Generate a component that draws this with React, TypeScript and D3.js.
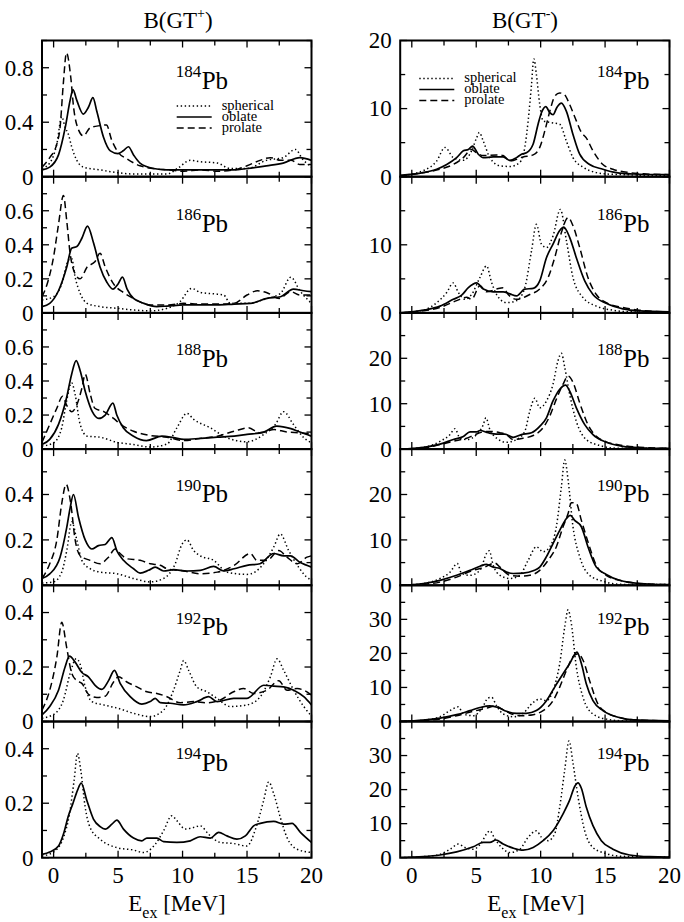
import * as d3 from "d3";

type Pt = [number, number];

// B(GT+) : [E_ex (MeV), strength]
const sph184P: Pt[] = [[-0.9,0.06],[-0.3,0.10],[0.25,0.24],[0.63,0.44],[0.9,0.36],[1.15,0.31],[1.4,0.22],[1.8,0.12],[2.3,0.07],[3.6,0.05],[4.9,0.03],[6.2,0.02],[7.5,0.02],[8.8,0.02],[9.6,0.06],[10.6,0.12],[11.4,0.11],[12.7,0.10],[13.7,0.06],[15,0.06],[16.5,0.12],[17.8,0.14],[18.75,0.20],[19.3,0.13],[20,0.07]];
const obl184P: Pt[] = [[-0.9,0.05],[-0.3,0.07],[0.38,0.16],[0.9,0.36],[1.28,0.56],[1.5,0.64],[1.8,0.56],[2.3,0.46],[2.7,0.51],[3.05,0.58],[3.35,0.48],[3.87,0.29],[4.4,0.19],[5.0,0.17],[5.4,0.19],[5.8,0.22],[6.2,0.16],[6.7,0.10],[7.75,0.06],[8.8,0.05],[10.1,0.05],[11.4,0.05],[14,0.05],[15,0.06],[16.5,0.08],[17.8,0.10],[19.1,0.14],[20,0.12]];
const pro184P: Pt[] = [[-0.9,0.07],[-0.3,0.14],[0.25,0.24],[0.5,0.36],[0.75,0.68],[1.0,0.91],[1.33,0.73],[1.55,0.51],[1.95,0.34],[2.3,0.30],[2.85,0.36],[3.6,0.375],[4.1,0.38],[4.5,0.27],[5.0,0.18],[5.7,0.13],[6.7,0.08],[7.75,0.06],[8.8,0.05],[10.1,0.04],[11.4,0.05],[12.7,0.04],[14,0.05],[15,0.08],[16,0.12],[16.8,0.14],[17.6,0.12],[18.4,0.12],[19.1,0.09],[20,0.09]];

const sph186P: Pt[] = [[-0.9,0.076],[0,0.095],[0.63,0.17],[1.15,0.31],[1.4,0.32],[1.67,0.21],[2.06,0.115],[2.6,0.056],[3.6,0.037],[4.9,0.027],[6.2,0.017],[7.5,0.012],[8.8,0.027],[9.8,0.066],[10.7,0.144],[11.4,0.12],[12.7,0.11],[13.2,0.105],[13.7,0.056],[15,0.056],[16.55,0.085],[17.6,0.115],[18.4,0.21],[19.1,0.13],[20,0.056]];
const obl186P: Pt[] = [[-0.9,0.037],[-0.3,0.056],[0.38,0.13],[1.02,0.27],[1.4,0.38],[1.8,0.39],[2.2,0.44],[2.63,0.51],[3.1,0.41],[3.6,0.27],[4.13,0.18],[4.6,0.14],[5.0,0.17],[5.34,0.21],[5.7,0.14],[6.2,0.085],[7.0,0.056],[8.0,0.037],[8.8,0.04],[10.1,0.047],[11.4,0.047],[12.7,0.047],[14,0.052],[15.25,0.056],[16.55,0.085],[17.6,0.095],[18.6,0.14],[19.4,0.13],[20,0.125]];
const pro186P: Pt[] = [[-0.9,0.095],[-0.5,0.17],[0,0.33],[0.38,0.52],[0.76,0.69],[1.02,0.54],[1.28,0.35],[1.67,0.23],[2.06,0.20],[2.6,0.27],[3.2,0.30],[3.6,0.35],[4.0,0.27],[4.65,0.17],[5.4,0.12],[6.2,0.085],[7.5,0.047],[8.8,0.047],[10.1,0.056],[11.4,0.052],[12.7,0.052],[14,0.056],[15,0.105],[15.8,0.13],[16.5,0.12],[17.5,0.085],[18.4,0.125],[19.1,0.105],[20,0.105]];

const sph188P: Pt[] = [[-0.9,0.018],[0,0.037],[0.63,0.125],[1.0,0.28],[1.4,0.39],[1.67,0.32],[2.06,0.145],[2.6,0.076],[3.6,0.07],[4.9,0.04],[6.2,0.027],[7.5,0.012],[8.8,0.03],[9.56,0.125],[10.34,0.21],[10.86,0.175],[12.15,0.125],[13.44,0.067],[15,0.043],[16.3,0.086],[17.2,0.145],[17.84,0.22],[18.6,0.145],[19.4,0.067],[20,0.037]];
const obl188P: Pt[] = [[-0.9,0.027],[-0.3,0.057],[0.38,0.145],[1.0,0.30],[1.4,0.44],[1.75,0.52],[2.06,0.46],[2.45,0.34],[3.0,0.22],[3.5,0.18],[4.0,0.20],[4.6,0.27],[4.9,0.20],[5.4,0.125],[6.2,0.076],[7.2,0.05],[8.4,0.076],[9.3,0.067],[10.1,0.057],[11.4,0.063],[12.7,0.07],[14,0.076],[15,0.086],[16.3,0.10],[17.3,0.135],[18.4,0.12],[19.1,0.10],[20,0.076]];
const pro188P: Pt[] = [[-0.9,0.04],[-0.3,0.145],[0.25,0.24],[0.7,0.31],[1.0,0.26],[1.4,0.22],[1.8,0.26],[2.2,0.36],[2.45,0.44],[2.85,0.32],[3.2,0.24],[3.9,0.22],[4.65,0.18],[5.2,0.145],[6.2,0.105],[7.5,0.08],[8.8,0.07],[10.1,0.05],[11.4,0.063],[12.7,0.076],[14,0.105],[15.1,0.125],[16,0.096],[17.1,0.115],[18.1,0.10],[19.1,0.096],[20,0.09]];

const sph190P: Pt[] = [[-0.9,0.01],[0,0.015],[0.63,0.058],[1.02,0.153],[1.41,0.28],[1.8,0.20],[2.19,0.11],[2.83,0.073],[3.61,0.058],[4.9,0.051],[6.2,0.03],[7.49,0.015],[8.53,0.03],[9.43,0.095],[9.95,0.18],[10.34,0.20],[10.86,0.153],[11.37,0.13],[12.41,0.11],[13.44,0.058],[15,0.048],[16.29,0.095],[17.07,0.168],[17.58,0.226],[18.23,0.153],[19.0,0.08],[19.78,0.03],[20,0.025]];
const obl190P: Pt[] = [[-0.9,0.03],[-0.3,0.05],[0.5,0.124],[1.02,0.255],[1.28,0.34],[1.54,0.40],[1.93,0.30],[2.45,0.20],[2.96,0.16],[3.48,0.175],[4.0,0.18],[4.52,0.21],[4.9,0.153],[5.42,0.11],[6.2,0.073],[6.71,0.054],[7.36,0.066],[7.88,0.08],[8.53,0.063],[9.3,0.069],[10.34,0.063],[11.37,0.066],[12.41,0.083],[13.19,0.063],[14,0.073],[15,0.088],[16,0.095],[17.07,0.14],[17.84,0.13],[18.36,0.13],[19.14,0.10],[20,0.08]];
const pro190P: Pt[] = [[-0.9,0.03],[-0.3,0.095],[0.25,0.20],[0.63,0.36],[0.97,0.445],[1.33,0.36],[1.67,0.20],[2.06,0.13],[2.83,0.11],[3.6,0.095],[4.26,0.124],[4.77,0.16],[5.16,0.14],[5.68,0.117],[6.71,0.11],[7.5,0.095],[8.27,0.088],[8.8,0.073],[10.1,0.063],[11.4,0.051],[12.7,0.058],[14,0.088],[15.25,0.14],[15.77,0.11],[16.55,0.11],[17.46,0.153],[18.1,0.124],[18.9,0.095],[19.65,0.124],[20,0.13]];

const sph192P: Pt[] = [[-0.9,0.012],[0.12,0.03],[0.76,0.079],[1.28,0.176],[1.75,0.23],[2.06,0.21],[2.45,0.127],[2.96,0.073],[3.87,0.061],[5.03,0.048],[6.2,0.03],[7.49,0.018],[8.53,0.042],[9.3,0.115],[9.82,0.188],[10.08,0.224],[10.47,0.188],[11.11,0.127],[11.89,0.109],[12.67,0.085],[13.7,0.055],[15,0.061],[16.03,0.091],[16.81,0.164],[17.33,0.23],[17.84,0.188],[18.62,0.115],[19.4,0.055],[20,0.02]];
const obl192P: Pt[] = [[-0.9,0.024],[-0.3,0.055],[0.38,0.115],[0.89,0.20],[1.23,0.24],[1.67,0.218],[2.19,0.18],[2.7,0.164],[3.22,0.133],[3.74,0.118],[4.26,0.15],[4.72,0.188],[5.16,0.14],[5.94,0.091],[6.84,0.064],[7.49,0.073],[7.88,0.085],[8.27,0.069],[9.04,0.067],[10.08,0.061],[11.11,0.073],[12.02,0.091],[12.67,0.073],[13.96,0.085],[15,0.085],[16.29,0.133],[17.07,0.13],[17.84,0.127],[18.62,0.115],[19.4,0.091],[20,0.061]];
const pro192P: Pt[] = [[-0.9,0.042],[-0.3,0.115],[0.25,0.236],[0.63,0.364],[1.02,0.27],[1.41,0.176],[1.8,0.15],[2.19,0.14],[2.7,0.10],[3.35,0.088],[4.0,0.093],[4.65,0.145],[5.03,0.164],[5.68,0.145],[6.46,0.127],[7.23,0.109],[8.01,0.103],[8.79,0.091],[9.82,0.069],[10.86,0.073],[11.89,0.069],[12.93,0.079],[13.96,0.109],[14.74,0.121],[15.51,0.103],[16.55,0.115],[17.46,0.15],[18.1,0.115],[18.88,0.121],[19.4,0.115],[20,0.097]];

const sph194P: Pt[] = [[-0.9,0.006],[0.12,0.025],[0.76,0.074],[1.23,0.16],[1.59,0.284],[1.85,0.383],[2.11,0.32],[2.45,0.185],[2.83,0.111],[3.61,0.068],[4.9,0.037],[6.2,0.028],[6.97,0.019],[7.88,0.049],[8.53,0.099],[9.17,0.154],[9.56,0.136],[10.21,0.105],[10.86,0.111],[11.37,0.117],[12.02,0.086],[12.93,0.056],[13.96,0.052],[15,0.043],[15.7,0.111],[16.29,0.21],[16.68,0.278],[17.07,0.235],[17.58,0.148],[18.1,0.074],[18.88,0.031],[20,0.019]];
const obl194P: Pt[] = [[-0.9,0.012],[-0.3,0.021],[0.38,0.043],[0.76,0.086],[1.15,0.154],[1.49,0.198],[1.85,0.247],[2.14,0.274],[2.58,0.21],[3.09,0.142],[3.61,0.114],[4.0,0.105],[4.52,0.123],[4.9,0.138],[5.42,0.105],[6.2,0.072],[6.84,0.062],[7.23,0.072],[8.01,0.072],[8.53,0.059],[9.56,0.056],[10.6,0.062],[11.37,0.077],[12.15,0.072],[12.8,0.093],[13.44,0.08],[14.22,0.068],[14.87,0.08],[15.51,0.117],[16.03,0.126],[17.07,0.133],[17.84,0.123],[18.49,0.126],[19.14,0.093],[20,0.056]];

// B(GT-)
const sph184M: Pt[] = [[-0.9,0.15],[0.9,0.9],[1.93,2.3],[2.58,4.3],[3.22,2.8],[4.0,2.4],[4.64,3.8],[5.03,5.7],[5.24,6.5],[5.55,5.2],[6.06,2.8],[6.84,1.6],[7.61,1.5],[8.38,2.1],[8.77,4.3],[9.03,8.2],[9.29,13.5],[9.47,17.3],[9.67,15],[9.93,10.6],[10.19,8.2],[10.96,7.9],[11.48,7.7],[12.0,5.2],[12.51,2.8],[13.29,1.4],[14.32,0.6],[15.09,0.4],[16.38,0.3],[20,0.15]];
const obl184M: Pt[] = [[-0.9,0.2],[0.9,0.6],[1.93,1.1],[2.71,1.8],[3.48,2.8],[4.0,3.8],[4.39,4.0],[4.72,4.5],[5.16,3.3],[5.55,2.8],[6.32,2.9],[7.09,2.9],[7.61,2.4],[8.13,2.8],[8.51,3.3],[8.9,3.5],[9.42,4.8],[9.8,7.7],[10.06,9.4],[10.4,10.3],[10.71,9.4],[10.96,9.1],[11.27,10.2],[11.61,10.8],[12.0,9.6],[12.51,6.2],[13.03,3.3],[13.8,1.8],[14.83,1.1],[15.87,0.6],[17.16,0.4],[20,0.3]];
const pro184M: Pt[] = [[-0.9,0.15],[0.9,0.6],[2.19,1.1],[3.22,1.8],[4.0,2.8],[4.64,4.0],[5.03,3.5],[5.55,3.1],[6.58,3.2],[7.09,3.1],[7.61,2.3],[8.64,2.9],[9.42,3.2],[9.93,4.3],[10.32,6.7],[10.71,9.6],[11.09,11.8],[11.48,12.3],[11.87,12.0],[12.25,10.6],[12.77,8.2],[13.16,6.5],[13.54,5.7],[14.06,3.8],[14.83,1.8],[15.61,1.1],[16.9,0.6],[18.19,0.4],[20,0.3]];

const sph186M: Pt[] = [[-0.9,0],[0.9,0.4],[1.93,1.5],[2.71,3.0],[3.22,4.4],[3.61,3.0],[4.13,2.0],[4.64,2.7],[5.29,5.2],[5.8,6.9],[6.19,4.5],[6.58,2.7],[7.35,1.5],[8.13,1.8],[8.77,3.7],[9.29,9.1],[9.67,13.0],[10.06,10.1],[10.45,9.6],[10.96,11.3],[11.53,15.2],[12.0,10.6],[12.51,5.2],[13.29,2.25],[14.32,1.0],[15.61,0.4],[17.16,0.15],[20,0.1]];
const obl186M: Pt[] = [[-0.9,0],[0.9,0.4],[2.19,1.0],[3.22,2.0],[3.87,2.6],[4.39,3.7],[5.03,4.4],[5.55,3.5],[6.32,3.1],[7.09,3.1],[7.61,2.8],[8.13,2.5],[8.77,3.5],[9.42,3.6],[9.93,4.7],[10.45,8.1],[10.96,10.1],[11.48,12.1],[11.79,12.6],[12.25,11.1],[12.77,8.1],[13.42,4.7],[14.06,2.7],[15.09,1.4],[16.38,0.6],[17.67,0.3],[20,0.15]];
const pro186M: Pt[] = [[-0.9,0],[0.9,0.3],[2.19,0.8],[3.48,1.8],[4.26,2.3],[4.64,2.0],[5.29,4.0],[5.8,3.1],[6.58,3.5],[7.09,3.7],[7.48,2.7],[8.13,2.0],[9.16,2.7],[9.93,3.5],[10.58,5.2],[11.09,8.1],[11.61,11.8],[12.13,14.0],[12.51,12.8],[13.03,9.6],[13.67,5.2],[14.32,2.7],[15.09,1.5],[16.38,0.8],[17.67,0.4],[20,0.15]];

const sph188M: Pt[] = [[-0.9,0],[0.9,0.4],[2.19,1.7],[2.97,3.2],[3.35,4.5],[3.74,2.4],[4.26,2.1],[5.03,3.2],[5.55,5.4],[5.75,6.9],[6.06,4.3],[6.58,2.4],[7.35,1.5],[8.13,2.1],[8.77,3.9],[9.16,8.4],[9.55,11.2],[9.93,9.1],[10.45,10.6],[10.96,14.3],[11.35,19.5],[11.61,21.1],[11.87,18.0],[12.25,12.1],[12.77,6.1],[13.54,2.1],[14.58,0.8],[15.87,0.2],[20,0.15]];
const obl188M: Pt[] = [[-0.9,0],[0.9,0.4],[2.19,1.1],[3.22,2.1],[4.0,2.8],[4.52,3.8],[5.03,3.8],[5.29,4.1],[5.93,3.6],[6.58,3.3],[7.22,3.3],[7.87,2.6],[8.51,3.2],[9.29,3.6],[9.93,5.0],[10.45,6.9],[10.96,10.6],[11.48,13.2],[11.94,14.1],[12.25,12.8],[12.77,9.1],[13.42,5.4],[14.06,3.2],[15.09,1.5],[16.38,0.6],[17.67,0.3],[20,0.15]];
const pro188M: Pt[] = [[-0.9,0],[0.9,0.2],[2.19,1.0],[3.48,1.9],[4.26,2.4],[4.77,3.0],[5.55,3.8],[6.06,3.9],[6.84,3.6],[7.35,3.2],[7.87,2.1],[8.64,2.4],[9.42,3.0],[10.19,4.7],[10.71,7.3],[11.22,11.0],[11.74,14.3],[12.13,16.1],[12.51,14.7],[13.03,10.2],[13.67,5.4],[14.32,2.8],[15.09,1.6],[16.38,0.8],[17.67,0.4],[20,0.15]];

const sph190M: Pt[] = [[-0.9,0],[0.9,0.4],[2.19,1.5],[2.97,2.9],[3.53,4.8],[3.87,2.6],[4.52,2.2],[5.29,3.3],[5.8,7.0],[6.01,7.6],[6.32,4.4],[6.84,2.2],[7.61,1.5],[8.38,2.2],[9.03,5.5],[9.67,8.5],[10.19,7.4],[10.71,8.5],[11.22,12.9],[11.61,21.7],[11.87,27.6],[12.13,23.2],[12.51,12.9],[13.03,6.3],[13.8,2.2],[14.83,0.9],[16.38,0.2],[20,0.15]];
const obl190M: Pt[] = [[-0.9,0],[0.9,0.4],[2.19,1.1],[3.48,2.2],[4.52,3.3],[5.29,4.2],[5.8,4.6],[6.32,4.0],[6.84,3.7],[7.35,2.9],[7.87,2.6],[8.64,2.7],[9.42,3.2],[9.93,4.0],[10.45,6.3],[10.96,9.2],[11.48,12.1],[12.0,14.7],[12.3,15.4],[12.64,14.3],[13.16,12.9],[13.67,8.5],[14.32,4.0],[15.09,2.4],[16.12,1.1],[17.67,0.4],[20,0.15]];
const pro190M: Pt[] = [[-0.9,0],[0.9,0.2],[2.19,0.7],[3.48,1.8],[4.77,3.3],[5.55,3.9],[6.45,4.9],[6.84,4.0],[7.61,2.2],[8.38,2.0],[9.16,2.2],[9.93,3.3],[10.58,5.5],[11.22,8.5],[11.74,12.9],[12.13,15.8],[12.38,18.2],[12.77,18.0],[13.16,14.3],[13.67,9.6],[14.32,4.4],[15.09,2.2],[16.12,1.1],[17.67,0.4],[20,0.15]];

const sph192M: Pt[] = [[-0.9,0],[0.9,0.4],[2.19,1.4],[2.97,3.2],[3.61,4.3],[4.0,2.2],[4.77,1.7],[5.42,3.7],[5.93,6.9],[6.19,7.1],[6.58,4.6],[7.09,2.2],[7.87,1.4],[8.64,2.4],[9.42,5.6],[9.93,6.6],[10.45,6.1],[10.96,9.1],[11.48,17.0],[11.87,27.8],[12.13,32.8],[12.38,28.8],[12.77,16.0],[13.29,7.1],[14.06,2.2],[15.09,0.7],[16.38,0.2],[20,0.1]];
const obl192M: Pt[] = [[-0.9,0],[0.9,0.4],[2.19,1.0],[3.48,2.0],[4.52,3.2],[5.29,4.1],[6.06,4.6],[6.71,4.1],[7.35,3.0],[8.13,2.4],[8.9,2.4],[9.67,3.2],[10.45,6.1],[11.09,10.1],[11.74,14.0],[12.25,17.0],[12.82,20.4],[13.16,17.0],[13.54,11.1],[14.06,6.1],[14.83,3.2],[15.87,1.4],[17.16,0.5],[20,0.2]];
const pro192M: Pt[] = [[-0.9,0],[0.9,0.3],[2.19,0.7],[3.48,1.7],[4.77,3.0],[5.8,3.9],[6.45,4.6],[6.97,3.7],[7.61,2.4],[8.51,1.7],[9.42,2.0],[10.19,3.2],[10.96,6.1],[11.48,10.1],[12.0,15.0],[12.51,19.0],[12.9,19.9],[13.29,18.0],[13.8,12.0],[14.45,5.1],[15.09,2.7],[16.12,1.2],[17.67,0.4],[20,0.2]];

const sph194M: Pt[] = [[-0.9,0],[0.9,0.3],[2.19,1.0],[2.97,2.5],[3.61,4.0],[4.13,3.0],[4.77,2.5],[5.42,4.5],[5.8,7.0],[6.06,7.9],[6.45,5.5],[6.97,3.0],[7.61,1.5],[8.38,2.5],[9.03,6.0],[9.67,7.9],[10.06,6.0],[10.58,5.0],[11.09,7.0],[11.48,14.9],[11.87,25.8],[12.2,34.3],[12.51,27.8],[12.9,17.9],[13.42,7.9],[14.06,3.0],[15.09,1.2],[16.38,0.4],[20,0.2]];
const obl194M: Pt[] = [[-0.9,0],[0.9,0.3],[2.19,0.8],[3.48,1.7],[4.77,3.2],[5.55,4.5],[6.06,4.5],[6.53,5.2],[7.09,4.0],[7.87,2.8],[8.64,2.2],[9.42,3.0],[10.19,5.0],[10.96,7.9],[11.74,12.9],[12.25,16.9],[12.64,20.9],[12.9,22.0],[13.16,20.4],[13.54,14.9],[14.06,9.4],[14.71,5.0],[15.61,2.5],[16.9,0.8],[18.45,0.3],[20,0.2]];

const nuclei = ["184", "186", "188", "190", "192", "194"];
const xMajor = [0, 5, 10, 15, 20];
const xMinor = [2.5, 7.5, 12.5, 17.5];
const legendNames = ["spherical", "oblate", "prolate"];

// y axes per row
const plusYMax = [1.0, 0.8, 0.8, 0.6, 0.5, 0.5];
const plusYMajor = [0.4, 0.2, 0.2, 0.2, 0.2, 0.2];
const plusYMinor = [0.2, 0.1, 0.1, 0.1, 0.1, 0.1];
const plusYLabels = [["0", "0.4", "0.8"], ["0", "0.2", "0.4", "0.6"], ["0", "0.2", "0.4", "0.6"], ["0", "0.2", "0.4"], ["0", "0.2", "0.4"], ["0", "0.2", "0.4"]];
const minusYMax = [20, 20, 30, 30, 40, 40];
const minusYMajor = [10, 10, 10, 10, 10, 10];
const minusYMinor = [5, 5, 5, 5, 5, 5];
const minusYLabels = [["0", "10", "20"], ["0", "10"], ["0", "10", "20"], ["0", "10", "20"], ["0", "10", "20", "30"], ["0", "10", "20", "30"]];

const plusSeries = [
  [sph184P, obl184P, pro184P],
  [sph186P, obl186P, pro186P],
  [sph188P, obl188P, pro188P],
  [sph190P, obl190P, pro190P],
  [sph192P, obl192P, pro192P],
  [sph194P, obl194P, null],
];
const minusSeries = [
  [sph184M, obl184M, pro184M],
  [sph186M, obl186M, pro186M],
  [sph188M, obl188M, pro188M],
  [sph190M, obl190M, pro190M],
  [sph192M, obl192M, pro192M],
  [sph194M, obl194M, null],
];

const FONT = "Liberation Serif, Times New Roman, serif";
const TOP = 40.5;
const PH = 136.2;
const COLS = [
  { x0: 42, x1: 311.5, labelX: 201.7, legX: 176.7, legY: 65.5 },
  { x0: 400.2, x1: 669.5, labelX: 623, legX: 419.3, legY: 38 },
];
const labelDy = [48, 55, 54, 53, 50, 49];
const styles = [
  { dash: "1.4,2.6", width: 1.5 },
  { dash: null, width: 1.7 },
  { dash: "7,4", width: 1.5 },
];

function Panel({ col, row, plus }: { col: number; row: number; plus: boolean }) {
  const c = COLS[col];
  const y0 = TOP + row * PH;
  const y1 = y0 + PH;
  const yMax = plus ? plusYMax[row] : minusYMax[row];
  const yMinor = plus ? plusYMinor[row] : minusYMinor[row];
  const yMajor = plus ? plusYMajor[row] : minusYMajor[row];
  const labels = plus ? plusYLabels[row] : minusYLabels[row];
  const series = plus ? plusSeries[row] : minusSeries[row];

  const x = d3.scaleLinear().domain([-0.9, 20]).range([c.x0, c.x1]);
  const y = d3.scaleLinear().domain([0, yMax]).range([y1, y0]);
  const line = d3
    .line<Pt>()
    .x((d) => x(d[0]))
    .y((d) => y(d[1]))
    .curve(d3.curveMonotoneX);

  const yTicks = d3.range(0, yMax + 1e-6, yMinor);
  const isMajorY = (v: number) => Math.abs(v / yMajor - Math.round(v / yMajor)) < 1e-6;
  const clipId = `clip-${col}-${row}`;
  const last = row === 5;

  return (
    <g>
      <defs>
        <clipPath id={clipId}>
          <rect x={c.x0} y={y0} width={c.x1 - c.x0} height={PH} />
        </clipPath>
      </defs>
      <g clipPath={`url(#${clipId})`}>
        {series.map((s, i) =>
          s ? (
            <path
              key={i}
              d={line(s) || ""}
              fill="none"
              stroke="#000"
              strokeWidth={styles[i].width}
              strokeDasharray={styles[i].dash || undefined}
            />
          ) : null
        )}
      </g>
      {/* ticks point inward on all four sides */}
      {xMajor.concat(xMinor).map((v) => {
        const len = xMajor.includes(v) ? 7 : 5;
        return (
          <g key={`xt${v}`} stroke="#000" strokeWidth={1.3}>
            <line x1={x(v)} x2={x(v)} y1={y1} y2={y1 - len} />
            <line x1={x(v)} x2={x(v)} y1={y0} y2={y0 + len} />
          </g>
        );
      })}
      {yTicks.map((v) => {
        const len = isMajorY(v) ? 7 : 5;
        return (
          <g key={`yt${v}`} stroke="#000" strokeWidth={1.3}>
            <line x1={c.x0} x2={c.x0 + len} y1={y(v)} y2={y(v)} />
            <line x1={c.x1} x2={c.x1 - len} y1={y(v)} y2={y(v)} />
          </g>
        );
      })}
      <rect x={c.x0} y={y0} width={c.x1 - c.x0} height={PH} fill="none" stroke="#000" strokeWidth={2} />
      {labels.map((l) => (
        <text key={l} x={c.x0 - 8.5} y={y(+l)} dy="0.34em" textAnchor="end" fontFamily={FONT} fontSize={23}>
          {l}
        </text>
      ))}
      {last &&
        xMajor.map((v) => (
          <text key={`xl${v}`} x={x(v)} y={y1 + 25} textAnchor="middle" fontFamily={FONT} fontSize={23}>
            {v}
          </text>
        ))}
      <text x={c.labelX - 0.5} y={y0 + labelDy[row] - 11.5} textAnchor="end" fontFamily={FONT} fontSize={17}>
        {nuclei[row]}
      </text>
      <text x={c.labelX} y={y0 + labelDy[row]} fontFamily={FONT} fontSize={25}>
        Pb
      </text>
      {row === 0 &&
        legendNames.map((n, i) => {
          const ly = y0 + c.legY + i * 11;
          return (
            <g key={n}>
              <line
                x1={c.legX}
                x2={c.legX + 35}
                y1={ly}
                y2={ly}
                stroke="#000"
                strokeWidth={styles[i].width}
                strokeDasharray={styles[i].dash || undefined}
              />
              <text x={c.legX + 45} y={ly + 3.5} fontFamily={FONT} fontSize={14.5}>
                {n}
              </text>
            </g>
          );
        })}
    </g>
  );
}

export default function App() {
  return (
    <svg width={684} height={922} style={{ position: "absolute", left: 0, top: 0 }}>
      <rect width={684} height={922} fill="#fff" />
      <text x={178} y={28} textAnchor="middle" fontFamily={FONT} fontSize={23}>
        B(GT<tspan fontSize={14} dy={-10}>+</tspan><tspan dy={10}>)</tspan>
      </text>
      <text x={525} y={28} textAnchor="middle" fontFamily={FONT} fontSize={23}>
        B(GT<tspan fontSize={14} dy={-10}>-</tspan><tspan dy={10}>)</tspan>
      </text>
      {nuclei.map((n, r) => (
        <g key={n}>
          <Panel col={0} row={r} plus={true} />
          <Panel col={1} row={r} plus={false} />
        </g>
      ))}
      <text x={177} y={911} textAnchor="middle" fontFamily={FONT} fontSize={23}>
        E<tspan fontSize={16} dy={7}>ex</tspan><tspan dy={-7}> [MeV]</tspan>
      </text>
      <text x={536} y={911} textAnchor="middle" fontFamily={FONT} fontSize={23}>
        E<tspan fontSize={16} dy={7}>ex</tspan><tspan dy={-7}> [MeV]</tspan>
      </text>
    </svg>
  );
}
